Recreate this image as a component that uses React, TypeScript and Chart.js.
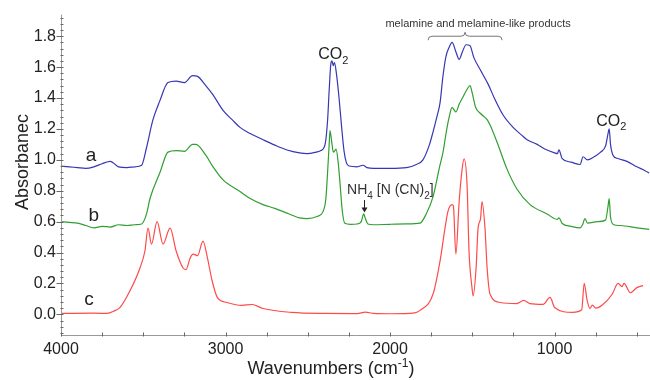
import React, { useEffect, useRef } from "react";
import { Chart, registerables } from "chart.js";

Chart.register(...registerables);

// ---- data (wavenumber cm-1, absorbance) ----
const waveA = [4000, 3950, 3900, 3850, 3800, 3750, 3700, 3650, 3600, 3550, 3510, 3480, 3441, 3400, 3350, 3300, 3250, 3200, 3170, 3120, 3076, 3015, 2960, 2912, 2850, 2772, 2700, 2626, 2550, 2505, 2450, 2420, 2395, 2380, 2370, 2360, 2353, 2345, 2338, 2325, 2310, 2295, 2280, 2265, 2250, 2200, 2164, 2140, 2100, 2000, 1900, 1840, 1800, 1760, 1739, 1715, 1696, 1678, 1660, 1640, 1623, 1600, 1580, 1560, 1538, 1515, 1490, 1450, 1404, 1362, 1313, 1252, 1200, 1167, 1106, 1060, 1000, 983, 973, 955, 900, 845, 827, 800, 760, 720, 690, 675, 668, 660, 645, 620, 560, 500, 450, 425];
const absA = [0.96, 0.955, 0.95, 0.945, 0.955, 0.975, 0.99, 0.955, 0.95, 0.955, 0.965, 1.08, 1.26, 1.38, 1.5, 1.51, 1.5, 1.545, 1.54, 1.48, 1.42, 1.32, 1.26, 1.21, 1.17, 1.13, 1.095, 1.064, 1.045, 1.04, 1.05, 1.06, 1.1, 1.25, 1.45, 1.62, 1.64, 1.61, 1.63, 1.55, 1.4, 1.22, 1.06, 0.98, 0.96, 0.955, 0.965, 0.95, 0.945, 0.945, 0.95, 0.97, 1.0, 1.1, 1.18, 1.28, 1.37, 1.545, 1.67, 1.73, 1.76, 1.7, 1.65, 1.7, 1.745, 1.74, 1.66, 1.58, 1.49, 1.39, 1.29, 1.21, 1.16, 1.13, 1.1, 1.07, 1.045, 1.04, 1.065, 1.01, 0.985, 0.97, 1.02, 1.0, 1.02, 1.05, 1.09, 1.17, 1.2, 1.1, 1.03, 1.01, 0.99, 0.955, 0.93, 0.915];

const waveB = [4000, 3950, 3900, 3850, 3800, 3750, 3700, 3650, 3600, 3550, 3510, 3480, 3459, 3398, 3350, 3300, 3250, 3200, 3180, 3120, 3076, 3015, 2912, 2850, 2772, 2700, 2626, 2550, 2505, 2440, 2410, 2390, 2378, 2370, 2365, 2355, 2345, 2335, 2328, 2315, 2305, 2290, 2275, 2240, 2200, 2175, 2160, 2150, 2135, 2100, 2000, 1900, 1818, 1780, 1739, 1700, 1678, 1655, 1640, 1623, 1600, 1580, 1560, 1530, 1514, 1500, 1480, 1450, 1410, 1390, 1350, 1289, 1228, 1149, 1046, 985, 973, 955, 900, 845, 830, 815, 800, 740, 690, 675, 668, 660, 640, 600, 500, 425];
const absB = [0.6, 0.595, 0.59, 0.575, 0.56, 0.57, 0.565, 0.58, 0.575, 0.58, 0.585, 0.65, 0.75, 0.92, 1.05, 1.06, 1.055, 1.1, 1.1, 1.03, 0.955, 0.87, 0.795, 0.75, 0.71, 0.686, 0.655, 0.625, 0.62, 0.635, 0.66, 0.75, 0.95, 1.1, 1.19, 1.12, 1.05, 1.06, 1.07, 0.98, 0.86, 0.667, 0.59, 0.583, 0.585, 0.6, 0.65, 0.62, 0.585, 0.58, 0.583, 0.585, 0.59, 0.65, 0.76, 0.95, 1.05, 1.2, 1.28, 1.34, 1.31, 1.36, 1.4, 1.46, 1.48, 1.43, 1.34, 1.3, 1.26, 1.22, 1.115, 0.94, 0.81, 0.71, 0.65, 0.615, 0.625, 0.59, 0.57, 0.56, 0.58, 0.62, 0.59, 0.6, 0.61, 0.7, 0.75, 0.63, 0.58, 0.575, 0.56, 0.55];

const waveC = [4000, 3800, 3720, 3680, 3641, 3580, 3520, 3490, 3471, 3450, 3416, 3380, 3337, 3300, 3258, 3240, 3215, 3197, 3170, 3137, 3110, 3082, 3050, 2991, 2900, 2839, 2772, 2600, 2400, 2200, 2150, 2100, 2000, 1850, 1818, 1739, 1696, 1666, 1648, 1623, 1615, 1600, 1580, 1562, 1550, 1532, 1520, 1502, 1495, 1477, 1465, 1450, 1441, 1423, 1410, 1392, 1330, 1230, 1188, 1150, 1070, 1027, 1000, 890, 835, 820, 802, 785, 770, 750, 710, 650, 614, 590, 578, 540, 500, 462];
const absC = [0.006, 0.008, 0.006, 0.02, 0.045, 0.154, 0.3, 0.41, 0.558, 0.455, 0.6, 0.455, 0.558, 0.41, 0.3, 0.29, 0.365, 0.39, 0.38, 0.474, 0.365, 0.22, 0.11, 0.077, 0.058, 0.064, 0.038, 0.013, 0.006, 0.005, 0.015, 0.006, 0.004, 0.01, 0.026, 0.13, 0.346, 0.558, 0.667, 0.71, 0.7, 0.39, 0.73, 0.94, 1.006, 0.84, 0.41, 0.173, 0.12, 0.3, 0.558, 0.62, 0.73, 0.558, 0.3, 0.13, 0.077, 0.07, 0.09, 0.07, 0.065, 0.11, 0.045, 0.013, 0.03, 0.2, 0.09, 0.038, 0.06, 0.04, 0.06, 0.13, 0.2, 0.18, 0.2, 0.14, 0.173, 0.186];

const xTickValues = [4000, 3000, 2000, 1000];
const yTickValues = [0, 0.2, 0.4, 0.6, 0.8, 1.0, 1.2, 1.4, 1.6, 1.8];

const seriesLabels = ["a", "b", "c"];
const seriesColors = ["#3636b4", "#2f9f2f", "#ff4a4a"];

const FONT = "'Liberation Sans', Arial, Helvetica, sans-serif";

function toPoints(w: number[], a: number[]) {
  return w.map((v, i) => ({ x: v, y: a[i] }));
}

const annotPlugin = {
  id: "annot",
  afterDatasetsDraw(chart: any) {
    const { ctx, chartArea, scales } = chart;
    const xs = scales.x;
    const ys = scales.y;
    const px = (w: number) => xs.getPixelForValue(w);
    const py = (v: number) => ys.getPixelForValue(v);
    ctx.save();

    // axes lines
    const L = Math.round(chartArea.left) + 0.5;
    const B = Math.round(chartArea.bottom) - 0.5;
    ctx.strokeStyle = "#9a9a92";
    ctx.lineWidth = 1;
    ctx.beginPath();
    ctx.moveTo(L, chartArea.top);
    ctx.lineTo(L, B);
    ctx.lineTo(chartArea.right, B);
    ctx.stroke();

    // y ticks
    ctx.strokeStyle = "#666";
    ctx.beginPath();
    for (let v = -0.12; v <= 1.93; v += 0.04) {
      const yy = Math.round(py(v)) + 0.5;
      const major = Math.abs(v / 0.2 - Math.round(v / 0.2)) < 0.01;
      ctx.moveTo(major ? L - 5 : L - 1, yy);
      ctx.lineTo(L + 2, yy);
    }
    // x ticks
    for (let w = 4000; w >= 450; w -= 250) {
      const xx = Math.round(px(w)) + 0.5;
      ctx.moveTo(xx, B - 3);
      ctx.lineTo(xx, B + 1);
    }
    ctx.stroke();

    // series letters
    ctx.fillStyle = "#222";
    ctx.font = `19px ${FONT}`;
    ctx.textAlign = "center";
    ctx.textBaseline = "alphabetic";
    ctx.fillText(seriesLabels[0], px(3818), py(0.994));
    ctx.fillText(seriesLabels[1], px(3800), py(0.603));
    ctx.fillText(seriesLabels[2], px(3830), py(0.058));

    // chemical labels with subscripts
    const chem = (parts: [string, boolean][], x: number, y: number, size: number, subSize: number, align: string) => {
      let total = 0;
      for (const [t, sub] of parts) {
        ctx.font = `${sub ? subSize : size}px ${FONT}`;
        total += ctx.measureText(t).width;
      }
      let cx = align === "center" ? x - total / 2 : x;
      ctx.textAlign = "left";
      for (const [t, sub] of parts) {
        ctx.font = `${sub ? subSize : size}px ${FONT}`;
        ctx.fillText(t, cx, sub ? y + size * 0.3 : y);
        cx += ctx.measureText(t).width;
      }
    };
    chem([["CO", false], ["2", true]], px(2345), py(1.654), 16, 11, "center");
    chem([["CO", false], ["2", true]], px(655), py(1.221), 16, 11, "center");
    ctx.fillStyle = "#333";
    chem([["NH", false], ["4", true], [" [N (CN)", false], ["2", true], ["]", false]], px(2261), py(0.776), 14, 10, "left");

    // arrow to NH4 peak
    const ax = Math.round(px(2158)) + 0.5;
    const y0 = py(0.74);
    const y1 = py(0.66);
    ctx.strokeStyle = "#222";
    ctx.lineWidth = 1;
    ctx.beginPath();
    ctx.moveTo(ax, y0);
    ctx.lineTo(ax, y1 - 4);
    ctx.stroke();
    ctx.fillStyle = "#222";
    ctx.beginPath();
    ctx.moveTo(ax - 3, y1 - 5);
    ctx.lineTo(ax + 3, y1 - 5);
    ctx.lineTo(ax, y1);
    ctx.closePath();
    ctx.fill();

    // melamine bracket + text
    ctx.fillStyle = "#333";
    ctx.font = `11px ${FONT}`;
    ctx.textAlign = "center";
    ctx.fillText("melamine and melamine-like products", px(1465), py(1.859));
    const bl = px(1769), bm = px(1544), br = px(1319);
    const by = py(1.8), r = 4;
    ctx.strokeStyle = "#777";
    ctx.beginPath();
    ctx.moveTo(bl, by + r);
    ctx.quadraticCurveTo(bl, by, bl + r, by);
    ctx.lineTo(bm - r, by);
    ctx.quadraticCurveTo(bm, by, bm, by - r);
    ctx.quadraticCurveTo(bm, by, bm + r, by);
    ctx.lineTo(br - r, by);
    ctx.quadraticCurveTo(br, by, br, by + r);
    ctx.stroke();

    // axis titles
    ctx.fillStyle = "#222";
    ctx.textBaseline = "alphabetic";
    ctx.font = `18px ${FONT}`;
    const t1 = "Wavenumbers (cm";
    const w1 = ctx.measureText(t1).width;
    const w3 = ctx.measureText(")").width;
    ctx.font = `12px ${FONT}`;
    const w2 = ctx.measureText("-1").width;
    let tx = 331 - (w1 + w2 + w3) / 2;
    const tb = 374;
    ctx.textAlign = "left";
    ctx.font = `18px ${FONT}`;
    ctx.fillText(t1, tx, tb);
    tx += w1;
    ctx.font = `12px ${FONT}`;
    ctx.fillText("-1", tx, tb - 7);
    tx += w2;
    ctx.font = `18px ${FONT}`;
    ctx.fillText(")", tx, tb);

    ctx.save();
    ctx.translate(28, 162);
    ctx.rotate(-Math.PI / 2);
    ctx.textAlign = "center";
    ctx.fillText("Absorbanec", 0, 0);
    ctx.restore();

    ctx.restore();
  },
};

export default function App() {
  const ref = useRef<HTMLCanvasElement>(null);
  useEffect(() => {
    document.body.style.margin = "0";
    const canvas = ref.current;
    if (!canvas) return;
    const chart = new Chart(canvas, {
      type: "line",
      data: {
        datasets: [
          { label: seriesLabels[0], data: toPoints(waveA, absA), borderColor: seriesColors[0] },
          { label: seriesLabels[1], data: toPoints(waveB, absB), borderColor: seriesColors[1] },
          { label: seriesLabels[2], data: toPoints(waveC, absC), borderColor: seriesColors[2] },
        ].map((d) => ({ ...d, borderWidth: 1.2, pointRadius: 0, fill: false, cubicInterpolationMode: "monotone" as const })),
      },
      options: {
        responsive: false,
        animation: false,
        layout: { padding: { top: 12, right: 0, left: 0, bottom: 0 } },
        plugins: { legend: { display: false }, tooltip: { enabled: false } },
        scales: {
          x: {
            type: "linear",
            reverse: true,
            min: 420,
            max: 4000,
            afterBuildTicks: (s: any) => {
              s.ticks = xTickValues.map((v) => ({ value: v }));
            },
            afterFit: (s: any) => {
              s.height = 44;
            },
            grid: { display: false, drawTicks: false },
            border: { display: false },
            ticks: {
              color: "#222",
              padding: 4,
              maxRotation: 0,
              autoSkip: false,
              font: { family: FONT, size: 16 },
              callback: (v: any) => String(v),
            },
          },
          y: {
            min: -0.14,
            max: 1.94,
            afterBuildTicks: (s: any) => {
              s.ticks = yTickValues.map((v) => ({ value: v }));
            },
            afterFit: (s: any) => {
              s.width = 61;
            },
            grid: { display: false, drawTicks: false },
            border: { display: false },
            ticks: {
              color: "#222",
              padding: 5,
              autoSkip: false,
              font: { family: FONT, size: 16 },
              callback: (v: any) => Number(v).toFixed(1),
            },
          },
        },
      },
      plugins: [annotPlugin],
    });
    return () => chart.destroy();
  }, []);
  return (
    <div style={{ position: "absolute", left: 0, top: 0, width: 650, height: 380 }}>
      <canvas ref={ref} width={650} height={380} style={{ display: "block" }} />
    </div>
  );
}
